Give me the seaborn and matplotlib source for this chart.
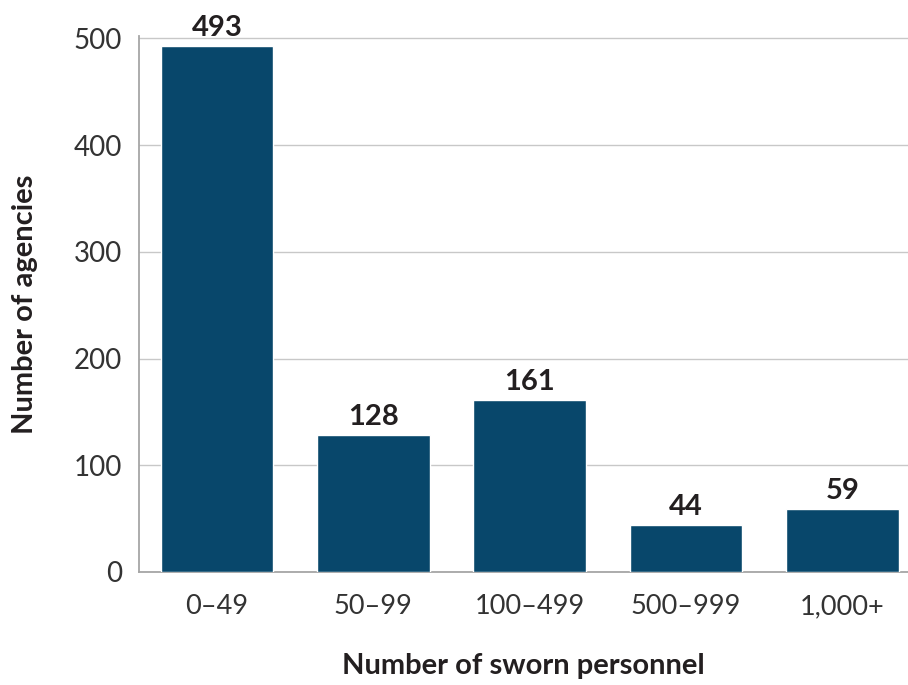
import matplotlib
matplotlib.use("Agg")
import matplotlib.pyplot as plt
import seaborn as sns
import pandas as pd

# Daten
categories = ["0–49", "50–99", "100–499", "500–999", "1,000+"]
agencies = [493, 128, 161, 44, 59]

df = pd.DataFrame({"size": categories, "count": agencies})

sns.set_style("white")
plt.rcParams['font.family'] = ['Lato', 'DejaVu Sans']

fig = plt.figure(figsize=(9.08, 6.85), dpi=100)
ax = fig.add_axes([0.153, 0.165, 0.847, 0.782])

sns.barplot(data=df, x="size", y="count", color="#08476b", width=0.72,
            saturation=1, ax=ax, zorder=3)

# Werte über den Balken
for i, v in enumerate(agencies):
    ax.text(i, v + 5, str(v), ha="center", va="bottom", fontsize=21,
            fontweight="bold", color="#231f20")

ax.set_ylim(0, 502)
ax.set_xlim(-0.5, 4.42)
ax.set_yticks([0, 100, 200, 300, 400, 500])
ax.yaxis.grid(True, color="#c8c8c8", linewidth=1, zorder=0)
ax.set_axisbelow(True)

for s in ["top", "right"]:
    ax.spines[s].set_visible(False)
ax.spines["left"].set_color("#a6a6a6")
ax.spines["bottom"].set_color("#a6a6a6")
ax.spines["left"].set_linewidth(1.3)
ax.spines["bottom"].set_linewidth(1.3)

ax.tick_params(axis="y", length=0, labelsize=20, labelcolor="#333333", pad=12)
ax.tick_params(axis="x", length=0, labelsize=19.5, labelcolor="#333333", pad=16)

ax.set_xlabel("Number of sworn personnel", fontsize=21, fontweight="bold",
              color="#231f20", labelpad=24)
ax.set_ylabel("Number of agencies", fontsize=21, fontweight="bold",
              color="#231f20", labelpad=26)

plt.savefig("out.png", dpi=100)
